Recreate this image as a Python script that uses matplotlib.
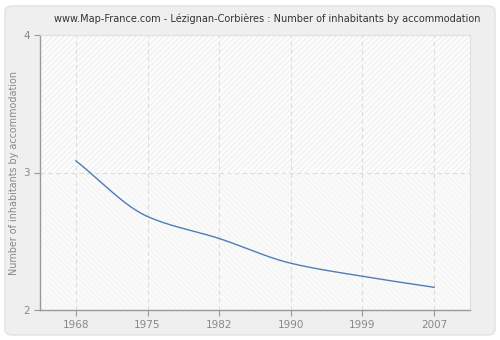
import numpy as np
import matplotlib
matplotlib.use("Agg")
import matplotlib.pyplot as plt
from matplotlib.patches import FancyBboxPatch, Rectangle

years = ["1968", "1975", "1982", "1990", "1999", "2007"]
values = [3.085, 2.68, 2.52, 2.34, 2.245, 2.165]
yticks = [2, 3, 4]
title = "www.Map-France.com - Lézignan-Corbières : Number of inhabitants by accommodation"
ylabel = "Number of inhabitants by accommodation"


def pchip(x, y, xs):
    x = np.asarray(x, float); y = np.asarray(y, float)
    h = np.diff(x); d = np.diff(y) / h
    m = np.zeros_like(y)
    for k in range(1, len(x) - 1):
        if d[k - 1] * d[k] > 0:
            w1 = 2 * h[k] + h[k - 1]; w2 = h[k] + 2 * h[k - 1]
            m[k] = (w1 + w2) / (w1 / d[k - 1] + w2 / d[k])
    m[0] = d[0]; m[-1] = d[-1]
    out = np.empty_like(xs)
    for i, xv in enumerate(xs):
        k = min(max(np.searchsorted(x, xv) - 1, 0), len(x) - 2)
        t = (xv - x[k]) / h[k]
        h00 = 2 * t**3 - 3 * t**2 + 1; h10 = t**3 - 2 * t**2 + t
        h01 = -2 * t**3 + 3 * t**2; h11 = t**3 - t**2
        out[i] = h00 * y[k] + h10 * h[k] * m[k] + h01 * y[k + 1] + h11 * h[k] * m[k + 1]
    return out


plt.rcParams["hatch.linewidth"] = 0.6
fig = plt.figure(figsize=(5, 3.4), dpi=100)
fig.patch.set_facecolor("white")
bg = FancyBboxPatch((5 / 500, 5 / 340), 490 / 500, 329 / 340,
                    boxstyle="round,pad=0,rounding_size=0.015",
                    transform=fig.transFigure, facecolor="#efefef",
                    edgecolor="#e2e2e2", linewidth=1, zorder=-10)
fig.patches.append(bg)

ax = fig.add_axes([40 / 500, 30 / 340, 430 / 500, 275 / 340])
ax.set_zorder(5)
ax.set_facecolor("#fafafa")
xpos = np.arange(len(years))
ax.set_xlim(-0.5, len(years) - 0.5)
ax.set_ylim(2, 4)

ax.add_patch(Rectangle((-0.5, 3), len(years), 1, facecolor="#fcfcfc",
                       edgecolor="#ececec", hatch="//////", linewidth=0, zorder=0))
ax.add_patch(Rectangle((-0.5, 2), len(years), 1, facecolor="#fafafa",
                       edgecolor="#f3f3f3", hatch="\\\\\\\\\\\\", linewidth=0, zorder=0))

for xv in xpos:
    ax.axvline(xv, color="#dddddd", linestyle=(0, (4, 3)), linewidth=0.8, zorder=1)
ax.axhline(3, color="#dddddd", linestyle=(0, (4, 3)), linewidth=0.8, zorder=1)
ax.axhline(4, color="#dddddd", linestyle=(0, (4, 3)), linewidth=0.8, zorder=1)

xs = np.linspace(0, len(years) - 1, 300)
ax.plot(xs, pchip(xpos, values, xs), color="#4f7db3", linewidth=1.0, zorder=3)

ax.set_xticks(xpos)
ax.set_xticklabels(years)
ax.set_yticks(yticks)
ax.set_yticklabels([str(t) for t in yticks])
ax.tick_params(colors="#999999", labelcolor="#888888", labelsize=7.5, length=4, width=0.8)
for s in ["left", "bottom"]:
    ax.spines[s].set_color("#999999")
    ax.spines[s].set_linewidth(1)
for s in ["top", "right"]:
    ax.spines[s].set_color("#e0e0e0")
    ax.spines[s].set_linewidth(0.8)

fig.text(14 / 500, 1 - 173 / 340, ylabel, rotation=90, ha="center", va="center",
         color="#888888", fontsize=6.9)
fig.text(267 / 500, 1 - 19 / 340, title, ha="center", va="center",
         fontsize=7.0, color="#333333")

fig.savefig("out.png", dpi=100, facecolor=fig.get_facecolor())
